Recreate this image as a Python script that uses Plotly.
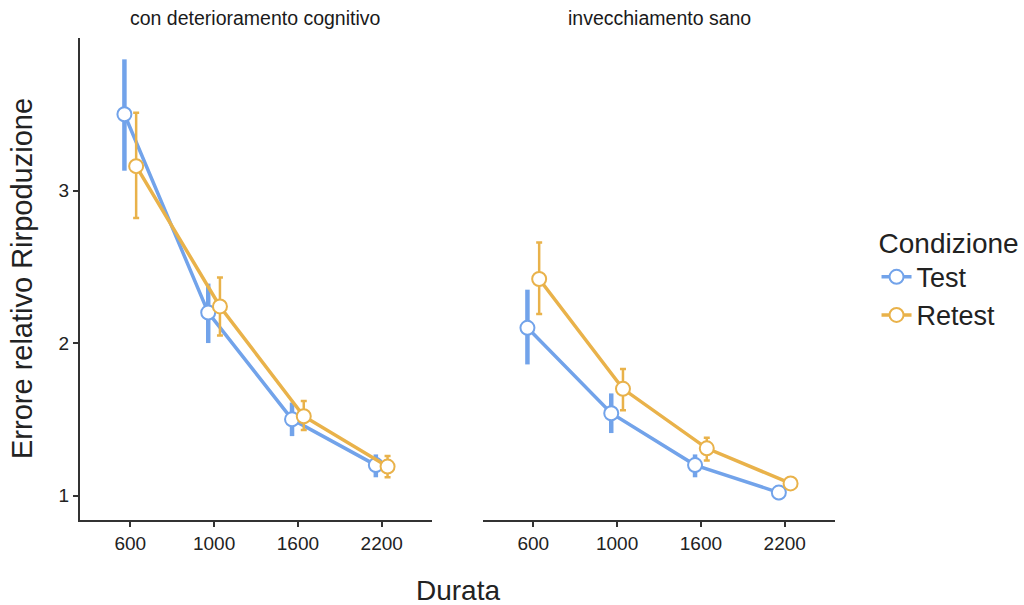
import plotly.graph_objects as go

durations = ["600", "1000", "1600", "2200"]
panels = ["con deterioramento cognitivo", "invecchiamento sano"]
conditions = ["Test", "Retest"]

# panel 1: con deterioramento cognitivo
p1_test = [3.50, 2.20, 1.50, 1.20]
p1_test_hi = [3.86, 2.39, 1.61, 1.27]
p1_test_lo = [3.13, 2.00, 1.39, 1.12]
p1_retest = [3.16, 2.24, 1.52, 1.19]
p1_retest_hi = [3.51, 2.43, 1.62, 1.26]
p1_retest_lo = [2.82, 2.05, 1.43, 1.12]

# panel 2: invecchiamento sano
p2_test = [2.10, 1.54, 1.20, 1.02]
p2_test_hi = [2.35, 1.67, 1.27, 1.06]
p2_test_lo = [1.86, 1.41, 1.12, 0.97]
p2_retest = [2.42, 1.70, 1.31, 1.08]
p2_retest_hi = [2.66, 1.83, 1.38, 1.10]
p2_retest_lo = [2.19, 1.56, 1.23, 1.06]

colors = {"Test": "#72a3ea", "Retest": "#e9b24a"}
dodge = {"Test": -0.07, "Retest": 0.07}

data = {
    ("x", "y"): {
        "Test": (p1_test, p1_test_hi, p1_test_lo),
        "Retest": (p1_retest, p1_retest_hi, p1_retest_lo),
    },
    ("x2", "y2"): {
        "Test": (p2_test, p2_test_hi, p2_test_lo),
        "Retest": (p2_retest, p2_retest_hi, p2_retest_lo),
    },
}

FONT = "Liberation Sans, Arial, Helvetica"
TXT = "#222222"

fig = go.Figure()
for pi, (axes, series) in enumerate(data.items()):
    for cond in conditions:
        vals, hi, lo = series[cond]
        xs = [i + dodge[cond] for i in range(len(durations))]
        thick = cond == "Test"
        fig.add_trace(go.Scatter(
            x=xs, y=vals, xaxis=axes[0], yaxis=axes[1],
            mode="lines+markers", name=cond, showlegend=(pi == 0),
            legendgroup=cond,
            line=dict(color=colors[cond], width=3.5),
            marker=dict(symbol="circle", size=14, color="white",
                        line=dict(color=colors[cond], width=2)),
            error_y=dict(type="data", symmetric=False,
                         array=[h - v for h, v in zip(hi, vals)],
                         arrayminus=[v - l for l, v in zip(lo, vals)],
                         color=colors[cond],
                         thickness=4.5 if thick else 2.5,
                         width=0 if thick else 3),
        ))

tickfont = dict(family=FONT, size=19, color="#222222")
axis_common = dict(
    tickmode="array", tickvals=[0, 1, 2, 3], ticktext=durations,
    range=[-0.6, 3.6], showgrid=False, zeroline=False,
    showline=True, linecolor="#333333", linewidth=2,
    ticks="outside", ticklen=5, tickwidth=2, tickcolor="#333333",
    tickfont=tickfont,
)

fig.update_layout(
    width=1024, height=605,
    paper_bgcolor="white", plot_bgcolor="white",
    margin=dict(l=80, r=189, t=38, b=85, autoexpand=False),
    font=dict(family=FONT, color=TXT),
    xaxis=dict(domain=[0, 0.4662], **axis_common),
    xaxis2=dict(domain=[0.5338, 1], **axis_common),
    yaxis=dict(range=[0.84, 4.0], tickvals=[1, 2, 3], showgrid=False,
               zeroline=False, showline=True, linecolor="#333333", linewidth=2,
               ticks="outside", ticklen=5, tickwidth=2, tickcolor="#333333",
               tickfont=tickfont),
    yaxis2=dict(range=[0.84, 4.0], anchor="x2", showgrid=False, zeroline=False,
                showline=False, showticklabels=False, ticks=""),
    legend=dict(x=1.055, y=0.63, xanchor="left", yanchor="top",
                title=dict(text="Condizione", font=dict(size=28, color=TXT)),
                font=dict(size=27, color=TXT), tracegroupgap=0,
                itemwidth=30),
    annotations=[
        dict(text=panels[0], x=0.2331, y=1.0, xref="paper", yref="paper",
             xanchor="center", yanchor="middle", yshift=20, showarrow=False,
             font=dict(size=19.5, color="#1a1a1a")),
        dict(text=panels[1], x=0.7669, y=1.0, xref="paper", yref="paper",
             xanchor="center", yanchor="middle", yshift=20, showarrow=False,
             font=dict(size=19.5, color="#1a1a1a")),
        dict(text="Durata", x=0.5, y=0, xref="paper", yref="paper",
             xanchor="center", yanchor="middle", yshift=-70, showarrow=False,
             font=dict(size=28, color=TXT)),
        dict(text="Errore relativo Rirpoduzione", x=0, y=0.5, xref="paper",
             yref="paper", xanchor="center", yanchor="middle", xshift=-58,
             textangle=-90, showarrow=False,
             font=dict(size=29, color=TXT)),
    ],
)

fig.write_html("out.html")
